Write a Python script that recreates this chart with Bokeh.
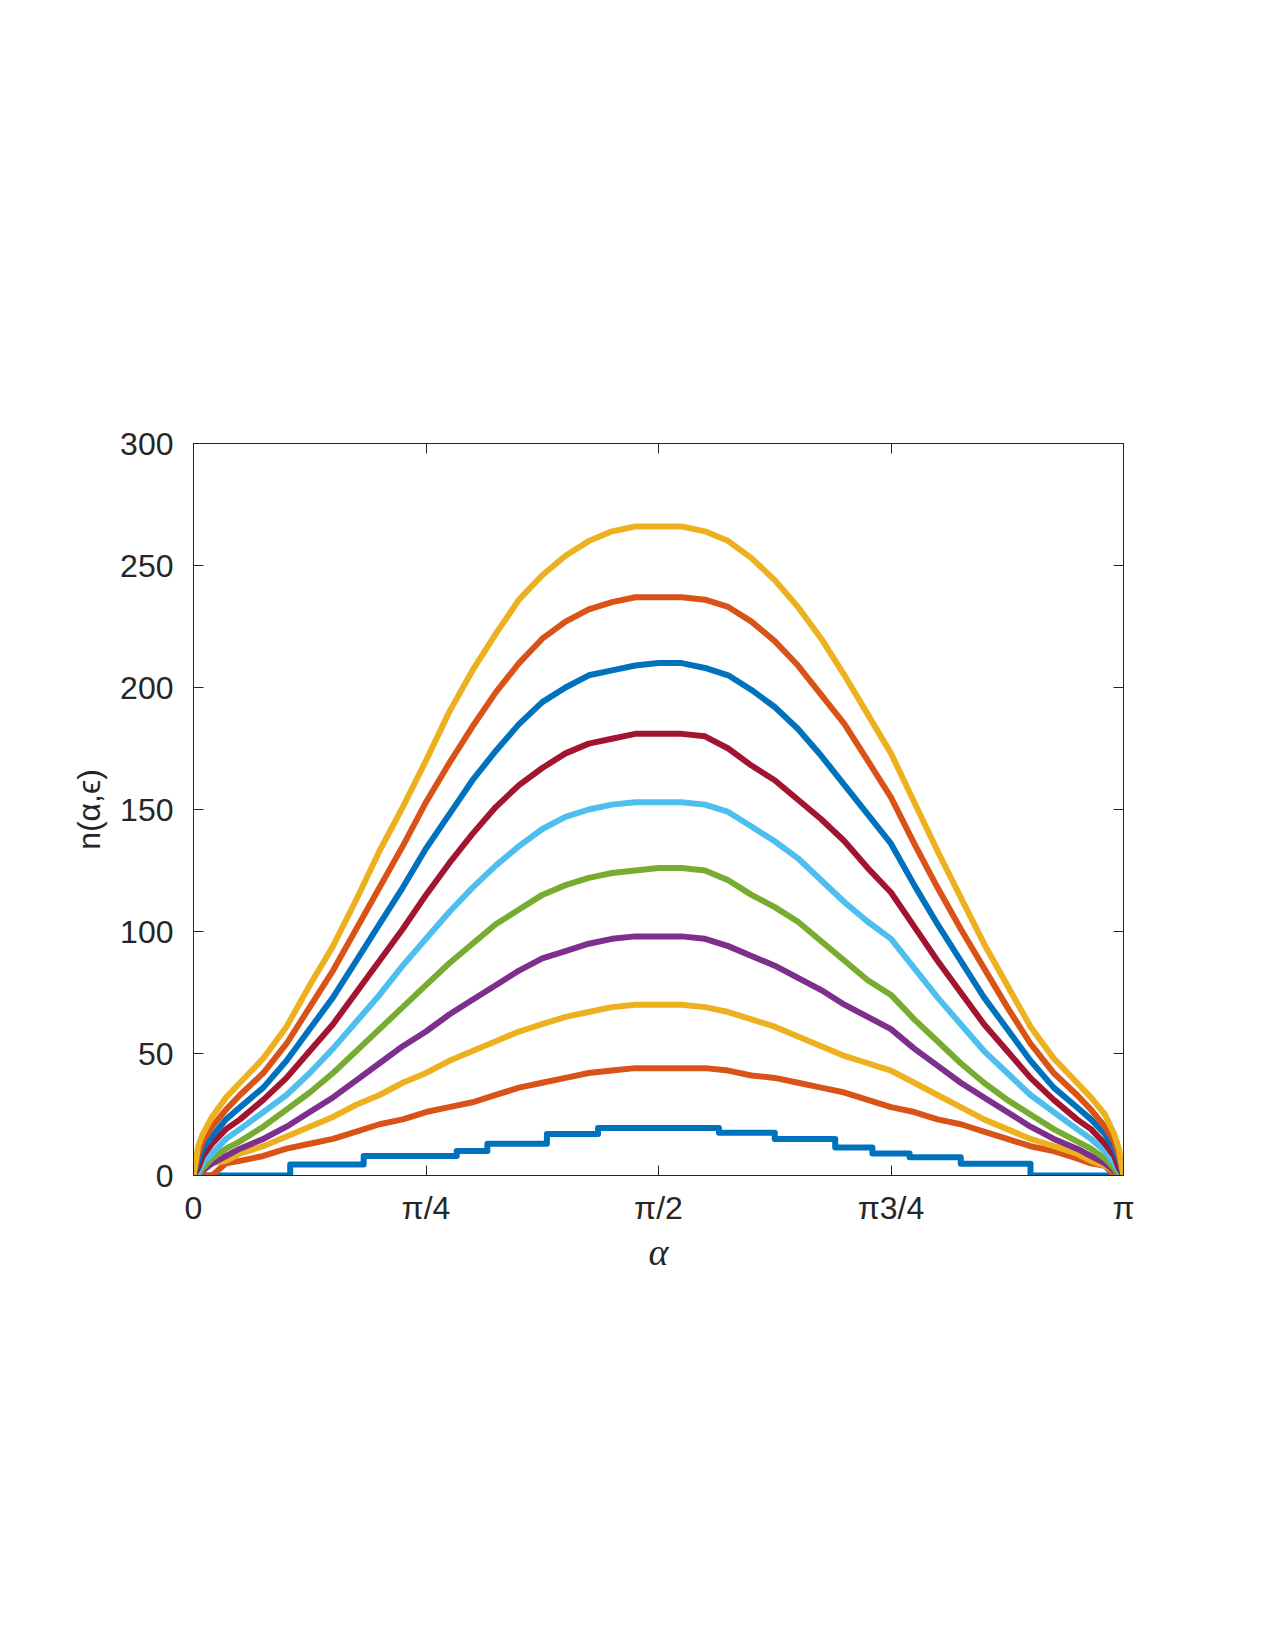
from bokeh.plotting import figure
from bokeh.models import LinearAxis, FixedTicker, Range1d, CustomJSTickFormatter
from bokeh.embed import file_html
from bokeh.resources import INLINE

# alpha / pi sample positions
alpha = [0, 0.005, 0.01, 0.02, 0.035, 0.05, 0.075, 0.1, 0.125, 0.15, 0.175, 0.2,
         0.225, 0.25, 0.275, 0.3, 0.325, 0.35, 0.375, 0.4, 0.425, 0.45, 0.475, 0.5,
         0.525, 0.55, 0.575, 0.6, 0.625, 0.65, 0.675, 0.7, 0.725, 0.75, 0.775, 0.8,
         0.825, 0.85, 0.875, 0.9, 0.925, 0.95, 0.965, 0.98, 0.99, 0.995, 1]

# lowest curve, read as step corners
b1_alpha = [0, 0.104, 0.104, 0.183, 0.183, 0.283, 0.283, 0.316, 0.316, 0.38, 0.38,
            0.435, 0.435, 0.565, 0.565, 0.625, 0.625, 0.69, 0.69, 0.73, 0.73, 0.77,
            0.77, 0.825, 0.825, 0.9, 0.9, 1.0]
b1 = [0, 0, 4.5, 4.5, 8, 8, 10, 10, 13, 13, 17, 17, 19.5, 19.5, 17.5, 17.5, 15, 15,
      11.5, 11.5, 9, 9, 7.5, 7.5, 4.8, 4.8, 0, 0]

o2 = [0, 0, 0, 0, 5, 6, 8, 11, 13, 15, 18, 21, 23, 26, 28, 30, 33, 36, 38, 40, 42, 43, 44, 44,
      44, 44, 43, 41, 40, 38, 36, 34, 31, 28, 26, 23, 21, 18, 15, 12, 10, 7, 5, 4, 0, 0, 0]
y3 = [0, 0, 3, 5, 6, 9, 12, 16, 20, 24, 29, 33, 38, 42, 47, 51, 55, 59, 62, 65, 67, 69, 70, 70,
      70, 69, 67, 64, 61, 57, 53, 49, 46, 43, 38, 33, 28, 23, 19, 15, 12, 9, 6, 4, 2, 0, 0]
p4 = [0, 0, 2, 5, 8, 11, 15, 20, 26, 32, 39, 46, 53, 59, 66, 72, 78, 84, 89, 92, 95, 97, 98, 98,
      98, 97, 94, 90, 86, 81, 76, 70, 65, 60, 52, 45, 38, 32, 26, 20, 15, 11, 8, 5, 2, 0, 0]
g5 = [0, 0, 3, 7, 11, 14, 20, 27, 34, 42, 51, 60, 69, 78, 87, 95, 103, 109, 115, 119, 122, 124, 125, 126,
      126, 125, 121, 115, 110, 104, 96, 88, 80, 74, 64, 55, 46, 38, 31, 25, 19, 14, 11, 7, 3, 0, 0]
lb6 = [0, 1, 5, 9, 15, 19, 26, 33, 42, 52, 63, 74, 86, 97, 108, 118, 127, 135, 142, 147, 150, 152, 153, 153,
       153, 152, 149, 143, 137, 130, 121, 112, 104, 97, 85, 73, 62, 51, 42, 33, 26, 19, 15, 10, 5, 2, 0]
r7 = [0, 3, 8, 13, 19, 23, 31, 40, 51, 62, 75, 88, 101, 115, 128, 140, 151, 160, 167, 173, 177, 179, 181, 181,
      181, 180, 175, 168, 162, 154, 146, 137, 126, 116, 102, 88, 75, 62, 51, 40, 31, 23, 19, 13, 8, 3, 0]
b8 = [0, 6, 11, 16, 23, 28, 36, 47, 60, 73, 88, 103, 118, 134, 148, 162, 174, 185, 194, 200, 205, 207, 209, 210,
      210, 208, 205, 199, 192, 183, 172, 160, 148, 136, 119, 103, 88, 73, 60, 47, 36, 28, 23, 17, 11, 6, 0]
o9 = [0, 9, 14, 20, 27, 33, 42, 54, 69, 84, 101, 118, 135, 153, 169, 184, 198, 210, 220, 227, 232, 235, 237, 237,
      237, 236, 233, 227, 219, 209, 197, 185, 170, 155, 136, 118, 101, 85, 69, 54, 42, 33, 27, 20, 14, 8, 0]
y10 = [0, 12, 17, 24, 32, 38, 48, 61, 78, 94, 113, 133, 151, 170, 190, 207, 222, 236, 246, 254, 260, 264, 266, 266,
       266, 264, 260, 253, 244, 233, 220, 205, 189, 173, 153, 133, 114, 95, 78, 61, 48, 38, 32, 25, 17, 11, 0]

series = [
    (b1_alpha, b1, "#0072BD"),
    (alpha, o2, "#D95319"),
    (alpha, y3, "#EDB120"),
    (alpha, p4, "#7E2F8E"),
    (alpha, g5, "#77AC30"),
    (alpha, lb6, "#4DBEEE"),
    (alpha, r7, "#A2142F"),
    (alpha, b8, "#0072BD"),
    (alpha, o9, "#D95319"),
    (alpha, y10, "#EDB120"),
]

x_ticks = [0, 0.25, 0.5, 0.75, 1]
x_tick_labels = ["0", "π/4", "π/2", "π3/4", "π"]
y_ticks = [0, 50, 100, 150, 200, 250, 300]

AX = "#262626"
FONT = "Liberation Sans"

p = figure(frame_width=930, frame_height=732,
           min_border_left=193, min_border_right=152,
           min_border_top=443, min_border_bottom=475,
           x_range=Range1d(0, 1), y_range=Range1d(0, 300),
           output_backend="svg", toolbar_location=None)
p.background_fill_color = "white"
p.border_fill_color = "white"
p.outline_line_color = AX
p.outline_line_width = 1
p.xgrid.visible = False
p.ygrid.visible = False

for xs, ys, c in series:
    p.line(xs, ys, line_color=c, line_width=6, line_join="round")

xa = p.xaxis[0]
xa.ticker = FixedTicker(ticks=x_ticks)
xa.major_label_overrides = {t: l for t, l in zip(x_ticks, x_tick_labels)}
ya = p.yaxis[0]
ya.ticker = FixedTicker(ticks=y_ticks)

for ax in (xa, ya):
    ax.axis_line_color = AX
    ax.major_tick_line_color = AX
    ax.major_tick_in = 10
    ax.major_tick_out = 0
    ax.minor_tick_line_color = None
    ax.major_label_text_font = FONT
    ax.major_label_text_font_size = "32px"
    ax.major_label_text_color = AX
xa.major_label_standoff = 14
ya.major_label_standoff = 20

xa.axis_label = "α"
xa.axis_label_text_font = "Liberation Serif"
xa.axis_label_text_font_style = "italic"
xa.axis_label_text_font_size = "38px"
xa.axis_label_text_color = AX
xa.axis_label_standoff = 2

ya.axis_label = "n(α,ϵ)"
ya.axis_label_text_font = FONT
ya.axis_label_text_font_style = "normal"
ya.axis_label_text_font_size = "32px"
ya.axis_label_text_color = AX
ya.axis_label_standoff = 10

blank = CustomJSTickFormatter(code="return ''")
top = LinearAxis(ticker=FixedTicker(ticks=x_ticks), formatter=blank,
                 axis_line_color=AX, major_tick_line_color=AX,
                 major_tick_in=10, major_tick_out=0, minor_tick_line_color=None)
right = LinearAxis(ticker=FixedTicker(ticks=y_ticks), formatter=blank,
                   axis_line_color=AX, major_tick_line_color=AX,
                   major_tick_in=10, major_tick_out=0, minor_tick_line_color=None)
p.add_layout(top, "above")
p.add_layout(right, "right")

open("out.html", "w").write(file_html(p, INLINE))
